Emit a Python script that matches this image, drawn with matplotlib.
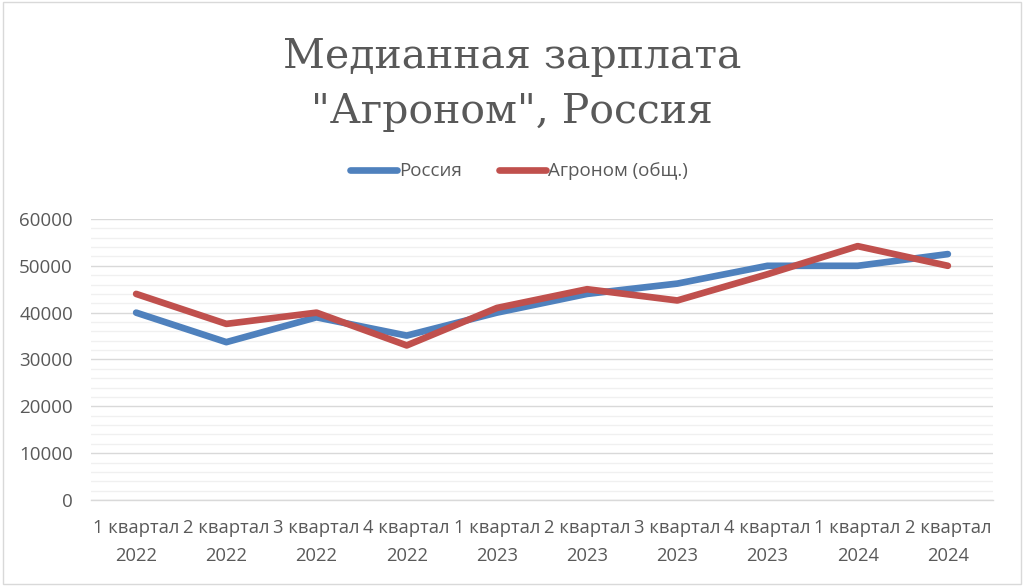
import matplotlib
matplotlib.use("Agg")
import matplotlib.pyplot as plt
from matplotlib.ticker import MultipleLocator
from matplotlib.patches import Rectangle

categories = ["1 квартал\n2022", "2 квартал\n2022", "3 квартал\n2022", "4 квартал\n2022",
              "1 квартал\n2023", "2 квартал\n2023", "3 квартал\n2023", "4 квартал\n2023",
              "1 квартал\n2024", "2 квартал\n2024"]
russia = [40000, 33700, 39000, 35100, 40000, 44000, 46200, 50000, 50000, 52500]
agronom = [44000, 37600, 40000, 33000, 41000, 45000, 42600, 48200, 54200, 50000]
series_names = ["Россия", "Агроном (общ.)"]
title_lines = ["Медианная зарплата", "\"Агроном\", Россия"]

sans = ["Open Sans", "DejaVu Sans"]
text_color = "#595959"

fig = plt.figure(figsize=(10.24, 5.88), dpi=100)
fig.patch.set_facecolor("white")
fig.patches.append(Rectangle((0.003, 0.006), 0.994, 0.99, transform=fig.transFigure,
                             fill=False, edgecolor="#D9D9D9", linewidth=1.0))

ax = fig.add_axes([0.0889, 0.1497, 0.8808, 0.4779])
x = list(range(len(categories)))
ax.plot(x, russia, color="#4F81BD", linewidth=4.8, solid_capstyle="round",
        solid_joinstyle="round", label=series_names[0], zorder=3)
ax.plot(x, agronom, color="#C0504D", linewidth=4.8, solid_capstyle="round",
        solid_joinstyle="round", label=series_names[1], zorder=4)

ax.set_xlim(-0.5, len(categories) - 0.5)
ax.set_ylim(0, 60000)
ax.yaxis.set_major_locator(MultipleLocator(10000))
ax.yaxis.set_minor_locator(MultipleLocator(2000))
ax.grid(which="major", axis="y", color="#D9D9D9", linewidth=1.0)
ax.grid(which="minor", axis="y", color="#F0F0F0", linewidth=1.0)
ax.set_axisbelow(True)
for s in ["top", "right", "left"]:
    ax.spines[s].set_visible(False)
ax.spines["bottom"].set_color("#D9D9D9")
ax.spines["bottom"].set_linewidth(1.0)
ax.tick_params(axis="both", which="both", length=0)
ax.tick_params(axis="y", pad=13, labelsize=13.5, labelcolor=text_color)
ax.tick_params(axis="x", pad=14, labelsize=13.2, labelcolor=text_color)
ax.set_xticks(x)
ax.set_xticklabels(categories, fontfamily=sans, linespacing=1.7)
for lab in ax.get_yticklabels():
    lab.set_fontfamily(sans)

fig.text(0.5, 1 - 68 / 588, title_lines[0], ha="center", va="baseline", fontsize=29.5,
         family=["DejaVu Serif"], color=text_color)
fig.text(0.5, 1 - 123 / 588, title_lines[1], ha="center", va="baseline", fontsize=29.5,
         family=["DejaVu Serif"], color=text_color)

leg = ax.legend(loc="center", ncol=2, frameon=False, prop={"family": sans, "size": 13.5},
                handlelength=2.5, handletextpad=0.1, columnspacing=2.0)
leg.set_bbox_to_anchor((0.507, 0.709), transform=fig.transFigure)
for t in leg.get_texts():
    t.set_color(text_color)

fig.savefig("out.png", dpi=100, facecolor="white")
